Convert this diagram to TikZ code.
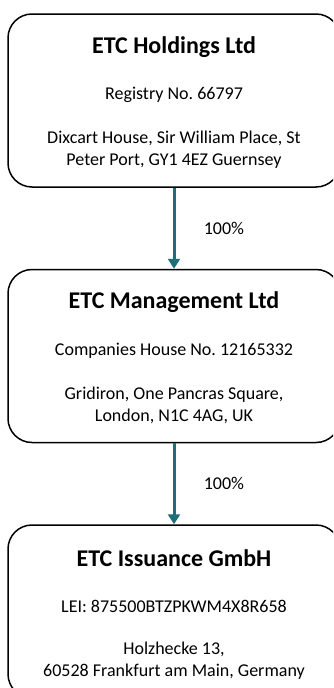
\documentclass[tikz,border=0pt]{standalone}
\usepackage{fontspec}
\setmainfont{Carlito}
\frenchspacing
\usetikzlibrary{positioning,arrows.meta}
\definecolor{linkteal}{HTML}{1F6E78}
\tikzset{
  entity/.style={draw,line width=1.5pt,rounded corners=24pt,minimum width=332pt,minimum height=173pt},
  entname/.style={font=\fontsize{24}{29}\selectfont\bfseries},
  detail/.style={font=\fontsize{18}{22}\selectfont,align=center},
  owns/.style={draw=linkteal,line width=3pt,-{Triangle[width=12pt,length=10pt]}},
  pct/.style={font=\fontsize{18}{22}\selectfont}
}
\begin{document}
\begin{tikzpicture}[x=1pt,y=1pt]
  \useasboundingbox (0,0) rectangle (333,-688);
  \clip (0,0) rectangle (333,-688);
  % boxes
  \node[entity] (holdings) at (174,-100.5) {};
  \node[entity,below=81pt of holdings] (management) {};
  \node[entity,below=81pt of management] (issuance) {};
  % texts
  \node[entname] (holdingsname) at ([yshift=-33.5pt]holdings.north) {ETC Holdings Ltd};
  \node[detail] (holdingsid) at ([yshift=-82pt]holdings.north) {Registry No. 66797};
  \node[detail] (holdingsaddr) at ([yshift=-136.5pt]holdings.north) {Dixcart House, Sir William Place, St\\Peter Port, GY1 4EZ Guernsey};
  \node[entname] (managementname) at ([yshift=-33.5pt]management.north) {ETC Management Ltd};
  \node[detail] (managementid) at ([yshift=-82pt]management.north) {Companies House No. 12165332};
  \node[detail] (managementaddr) at ([yshift=-136.5pt]management.north) {Gridiron, One Pancras Square,\\London, N1C 4AG, UK};
  \node[entname] (issuancename) at ([yshift=-33.5pt]issuance.north) {ETC Issuance GmbH};
  \node[detail] (issuanceid) at ([yshift=-82pt]issuance.north) {LEI: 875500BTZPKWM4X8R658};
  \node[detail] (issuanceaddr) at ([yshift=-136.5pt]issuance.north) {Holzhecke 13,\\60528 Frankfurt am Main, Germany};
  % ownership
  \draw[owns] (holdings) -- (management) node[midway,right=25pt,pct] (holdingspct) {100\%};
  \draw[owns] (management) -- (issuance) node[midway,right=25pt,pct] (managementpct) {100\%};
\end{tikzpicture}
\end{document}
